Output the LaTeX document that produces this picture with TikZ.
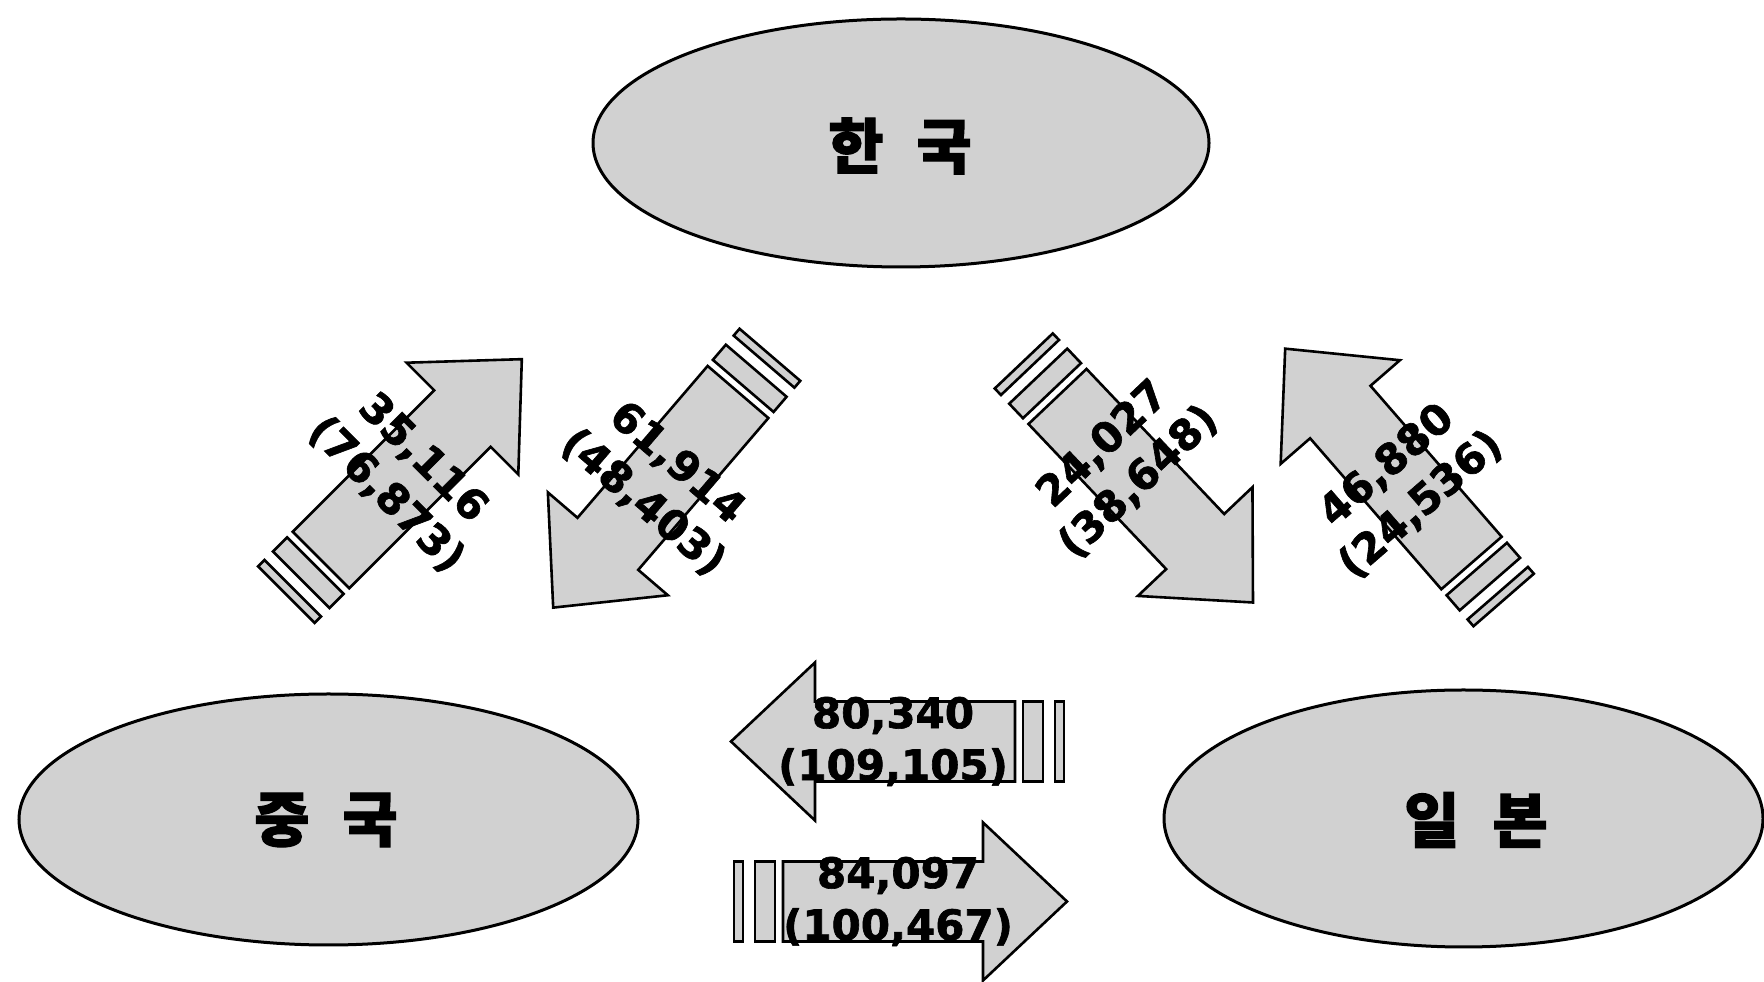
\documentclass[tikz,border=0pt]{standalone}
\usepackage{fontspec}
\usetikzlibrary{shapes.geometric}
\newfontfamily\kfont{Noto Sans CJK KR}[BoldFeatures={FakeBold=2}]
\newfontfamily\numfont{DejaVu Sans}[BoldFeatures={FakeBold=1.5}]
\tikzset{
  region/.style={ellipse, draw=black, line width=3pt, fill=black!18, inner sep=0pt},
  regionlabel/.style={font=\kfont\bfseries\fontsize{60}{66}\selectfont, inner sep=0pt},
  arrowfill/.style={draw=black, line width=2.6pt, fill=black!18, line join=miter},
  numlabel/.style={font=\numfont\bfseries\fontsize{42}{52}\selectfont, align=center, inner sep=0pt}
}
% #1 x, #2 y of tail middle, #3 direction, #4 text distance from tail, #5 text rotation, #6 name, #7 text
\newcommand\tradearrow[7]{%
  \begin{scope}[shift={(#1,#2)},rotate=#3]
    \draw[arrowfill] (0,-40) -- (200,-40) -- (200,-79) -- (284,0) -- (200,79) -- (200,40) -- (0,40) -- cycle;
    \draw[arrowfill] (-28,-40) rectangle (-8,40);
    \draw[arrowfill] (-49,-40) rectangle (-40,40);
    \node[numlabel,rotate=#5] (#6) at (#4,0) {#7};
  \end{scope}}
\begin{document}
\begin{tikzpicture}[x=1pt,y=1pt]
  \useasboundingbox (0,0) rectangle (1764,982);
  \fill[white] (0,0) rectangle (1764,982);
  % regions
  \node[region, minimum width=616pt, minimum height=248pt] (korea) at (901,839) {};
  \node[region, minimum width=619pt, minimum height=251pt] (china) at (328.5,162.5) {};
  \node[region, minimum width=599pt, minimum height=257pt] (japan) at (1463.5,163.5) {};
  \node[regionlabel] (korealabel) at (900,836) {한\hspace{0.55em}국};
  \node[regionlabel] (chinalabel) at (326,162) {중\hspace{0.55em}국};
  \node[regionlabel] (japanlabel) at (1476,162) {일\hspace{0.55em}본};
  % flows
  \tradearrow{321}{422}{45}{118}{-45}{cnkr}{35,116\\(76,873)}
  \tradearrow{738}{590}{229.4}{120}{-40.6}{krcn}{61,914\\(48,403)}
  \tradearrow{1057.5}{585.5}{-46.5}{92}{43.5}{krjp}{24,027\\(38,648)}
  \tradearrow{1471.5}{419}{131}{103}{41}{jpkr}{46,880\\(24,536)}
  \tradearrow{1015}{240.5}{180}{122}{0}{jpcn}{80,340\\(109,105)}
  \tradearrow{783}{80.5}{0}{115}{0}{cnjp}{84,097\\(100,467)}
\end{tikzpicture}
\end{document}
